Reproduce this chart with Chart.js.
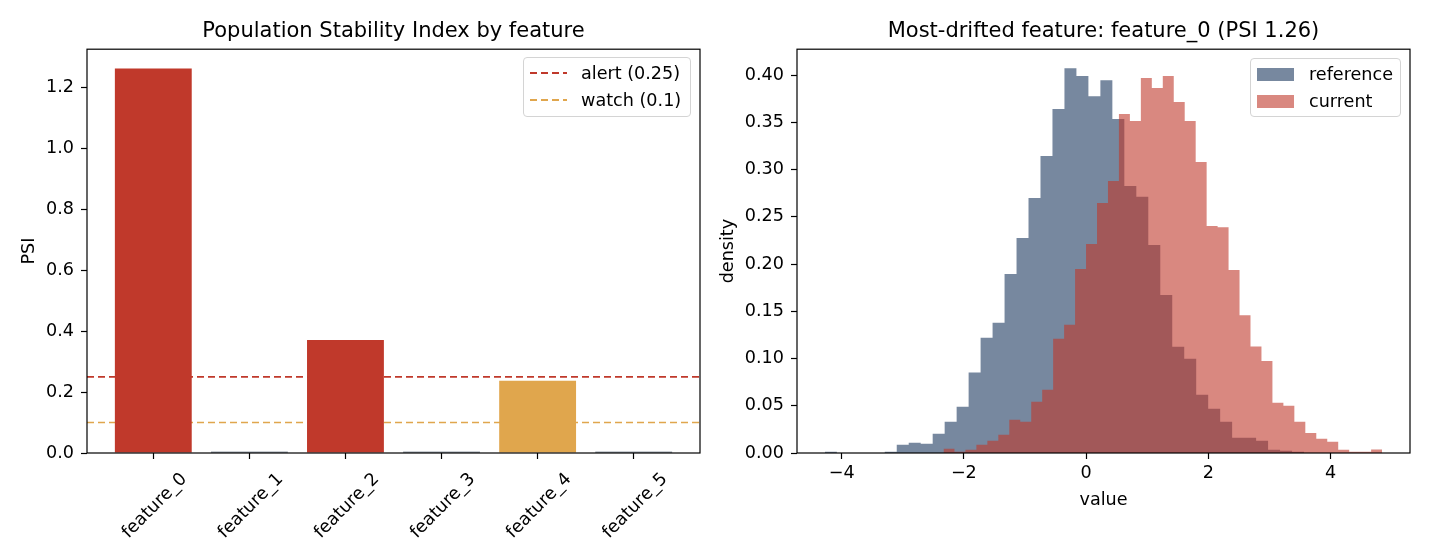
<!DOCTYPE html>
<html>
<head>
<meta charset="utf-8">
<title>Population Stability Index</title>
<script src="https://cdn.jsdelivr.net/npm/chart.js@4.4.1/dist/chart.umd.min.js"></script>
<style>
	body { margin: 0; background: #fff; font-family: 'DejaVu Sans', sans-serif; }
	#wrap { position: relative; width: 1430px; height: 559px; overflow: hidden; }
	canvas { position: absolute; top: 0; }
	#psi-chart { left: 0; }
	#drift-chart { left: 715px; }
	.legend {
		position: absolute;
		box-sizing: border-box;
		background: rgba(255, 255, 255, 0.8);
		border: 1px solid #d4d4d4;
		border-radius: 4px;
		padding: 2px 0 0 6px;
		font-size: 17.6px;
		color: #000;
	}
	.legend .row { display: flex; align-items: center; height: 26.8px; white-space: nowrap; }
	.legend .line { width: 37px; height: 2px; margin-right: 14px; }
	.legend .swatch { width: 37px; height: 13px; margin-right: 15px; }
	#psi-legend { left: 523px; top: 57px; width: 168px; height: 60px; }
	#drift-legend { left: 1250px; top: 58px; width: 151px; height: 59px; }
</style>
</head>
<body>
<div id="wrap">
	<canvas id="psi-chart" width="715" height="559"></canvas>
	<canvas id="drift-chart" width="715" height="559"></canvas>
	<div class="legend" id="psi-legend"></div>
	<div class="legend" id="drift-legend"></div>
</div>
<script>
	'use strict';

	// Left panel: PSI per feature.
	const features = ['feature_0', 'feature_1', 'feature_2', 'feature_3', 'feature_4', 'feature_5'];
	const psiValues = [1.263, 0.004, 0.371, 0.004, 0.237, 0.004];
	const alertLevel = 0.25;
	const watchLevel = 0.1;
	const psiTicks = [0, 0.2, 0.4, 0.6, 0.8, 1.0, 1.2];

	// Right panel: density histograms of the most drifted feature.
	const refStart = -4.274;
	const refBinWidth = 0.196;
	const refDensity = [
		0.0014, 0, 0, 0, 0, 0.0014, 0.0088, 0.0109, 0.0099, 0.0204,
		0.0331, 0.0490, 0.0853, 0.1219, 0.1378, 0.1896, 0.2277, 0.2700, 0.3144, 0.3641,
		0.4074, 0.3990, 0.3778, 0.3947, 0.3535, 0.2827, 0.2714, 0.2203, 0.1674, 0.1124,
		0.0997, 0.0617, 0.0469, 0.0331, 0.0162, 0.0162, 0.0130, 0.0035, 0.0025, 0.0014
	];
	const curStart = -2.333;
	const curBinWidth = 0.1794;
	const curDensity = [
		0.0046, 0.0014, 0.0035, 0.0088, 0.0130, 0.0194, 0.0352, 0.0331, 0.0543, 0.0670,
		0.1209, 0.1357, 0.1949, 0.2213, 0.2647, 0.2879, 0.3588, 0.3515, 0.3969, 0.3863,
		0.3990, 0.3715, 0.3514, 0.3080, 0.2404, 0.2390, 0.1938, 0.1459, 0.1128, 0.0973,
		0.0532, 0.0500, 0.0331, 0.0213, 0.0150, 0.0118, 0.0035, 0.0012, 0.0012, 0.0037
	];
	const valueTicks = [-4, -2, 0, 2, 4];
	const densityTicks = [0, 0.05, 0.10, 0.15, 0.20, 0.25, 0.30, 0.35, 0.40];

	const colors = {
		alert: '#c0392b',
		watch: '#e0a64d',
		ok: '#2c3e50',
		reference: '#77889f',
		current: 'rgba(192, 57, 43, 0.6)'
	};

	Chart.defaults.font.family = "'DejaVu Sans', sans-serif";
	Chart.defaults.font.size = 17.6;
	Chart.defaults.color = '#000';

	// Matplotlib-like box around the plot area.
	const framePlugin = {
		id: 'frame',
		afterDatasetsDraw(chart) {
			const a = chart.chartArea;
			const ctx = chart.ctx;
			ctx.save();
			ctx.strokeStyle = '#000';
			ctx.lineWidth = 1.2;
			ctx.strokeRect(a.left, a.top, a.right - a.left, a.bottom - a.top);
			ctx.restore();
		}
	};

	function barColor(v) {
		if (v > alertLevel) return colors.alert;
		if (v > watchLevel) return colors.watch;
		return colors.ok;
	}

	// Bin edges -> stepped points (each value holds until the next edge).
	function histPoints(start, width, density) {
		const pts = density.map(function(d, i) {
			return { x: start + i * width, y: d };
		});
		pts.push({ x: start + density.length * width, y: 0 });
		return pts;
	}

	function fixTicks(values) {
		return function(scale) {
			scale.ticks = values.map(function(v) { return { value: v }; });
		};
	}

	function minusSign(v) {
		return v < 0 ? '\u2212' + Math.abs(v) : String(v);
	}

	const tickGrid = {
		drawOnChartArea: false,
		offset: false,
		color: '#000',
		tickLength: 6,
		tickWidth: 1.2
	};

	const psiXMin = -0.69;
	const psiXMax = 5.69;

	new Chart(document.getElementById('psi-chart'), {
		type: 'bar',
		data: {
			datasets: [
				{
					label: 'PSI',
					data: psiValues.map(function(v, i) { return { x: i, y: v }; }),
					backgroundColor: psiValues.map(barColor),
					barPercentage: 0.8,
					categoryPercentage: 1,
					order: 0
				},
				{
					type: 'line',
					label: 'alert (0.25)',
					data: [{ x: psiXMin, y: alertLevel }, { x: psiXMax, y: alertLevel }],
					borderColor: colors.alert,
					borderWidth: 1.6,
					borderDash: [7, 4],
					pointRadius: 0,
					order: 1
				},
				{
					type: 'line',
					label: 'watch (0.1)',
					data: [{ x: psiXMin, y: watchLevel }, { x: psiXMax, y: watchLevel }],
					borderColor: colors.watch,
					borderWidth: 1.6,
					borderDash: [7, 4],
					pointRadius: 0,
					order: 1
				}
			]
		},
		options: {
			responsive: false,
			animation: false,
			layout: { padding: { left: 0, right: 15, top: 0, bottom: 0 } },
			plugins: {
				legend: { display: false },
				tooltip: { enabled: false },
				title: {
					display: true,
					text: 'Population Stability Index by feature',
					fullSize: false,
					font: { size: 21, weight: 'normal' },
					color: '#000',
					padding: { top: 19, bottom: 5 }
				}
			},
			scales: {
				x: {
					type: 'linear',
					offset: false,
					min: psiXMin,
					max: psiXMax,
					afterBuildTicks: fixTicks(features.map(function(f, i) { return i; })),
					afterFit: function(s) { s.height = 106; },
					ticks: {
						callback: function(v) { return features[v]; },
						minRotation: 45,
						maxRotation: 45,
						autoSkip: false,
						labelOffset: 31,
						padding: 10
					},
					grid: tickGrid,
					border: { display: false }
				},
				y: {
					min: 0,
					max: 1.326,
					afterBuildTicks: fixTicks(psiTicks),
					afterFit: function(s) { s.width = 87; },
					ticks: {
						callback: function(v) { return v.toFixed(1); },
						padding: 7
					},
					title: { display: true, text: 'PSI', padding: { top: 19, bottom: 0 } },
					grid: tickGrid,
					border: { display: false }
				}
			}
		},
		plugins: [framePlugin]
	});

	new Chart(document.getElementById('drift-chart'), {
		type: 'line',
		data: {
			datasets: [
				{
					label: 'reference',
					data: histPoints(refStart, refBinWidth, refDensity),
					stepped: true,
					fill: 'origin',
					backgroundColor: colors.reference,
					borderColor: 'transparent',
					borderWidth: 0,
					pointRadius: 0,
					order: 2
				},
				{
					label: 'current',
					data: histPoints(curStart, curBinWidth, curDensity),
					stepped: true,
					fill: 'origin',
					backgroundColor: colors.current,
					borderColor: 'transparent',
					borderWidth: 0,
					pointRadius: 0,
					order: 1
				}
			]
		},
		options: {
			responsive: false,
			animation: false,
			layout: { padding: { left: 0, right: 20, top: 0, bottom: 0 } },
			plugins: {
				legend: { display: false },
				tooltip: { enabled: false },
				title: {
					display: true,
					text: 'Most-drifted feature: feature_0 (PSI 1.26)',
					fullSize: false,
					font: { size: 21, weight: 'normal' },
					color: '#000',
					padding: { top: 19, bottom: 5 }
				}
			},
			scales: {
				x: {
					type: 'linear',
					min: -4.73,
					max: 5.30,
					afterBuildTicks: fixTicks(valueTicks),
					afterFit: function(s) { s.height = 106; },
					ticks: {
						callback: minusSign,
						maxRotation: 0,
						padding: 4
					},
					title: { display: true, text: 'value', padding: { top: 0, bottom: 48 } },
					grid: tickGrid,
					border: { display: false }
				},
				y: {
					min: 0,
					max: 0.4275,
					afterBuildTicks: fixTicks(densityTicks),
					afterFit: function(s) { s.width = 82; },
					ticks: {
						callback: function(v) { return v.toFixed(2); },
						padding: 7
					},
					title: { display: true, text: 'density', padding: { top: 3, bottom: 0 } },
					grid: tickGrid,
					border: { display: false }
				}
			}
		},
		plugins: [framePlugin]
	});

	// HTML legends (matplotlib-style boxes inside the plot area).
	function buildLegend(id, items) {
		const box = document.getElementById(id);
		items.forEach(function(item) {
			const row = document.createElement('div');
			row.className = 'row';
			const key = document.createElement('div');
			if (item.dashed) {
				key.className = 'line';
				key.style.background = 'repeating-linear-gradient(to right, ' + item.color + ' 0px, ' + item.color + ' 7px, transparent 7px, transparent 11px)';
			} else {
				key.className = 'swatch';
				key.style.background = item.color;
			}
			const text = document.createElement('span');
			text.textContent = item.label;
			row.appendChild(key);
			row.appendChild(text);
			box.appendChild(row);
		});
	}

	buildLegend('psi-legend', [
		{ label: 'alert (0.25)', color: colors.alert, dashed: true },
		{ label: 'watch (0.1)', color: colors.watch, dashed: true }
	]);
	buildLegend('drift-legend', [
		{ label: 'reference', color: colors.reference },
		{ label: 'current', color: colors.current }
	]);
</script>
</body>
</html>
